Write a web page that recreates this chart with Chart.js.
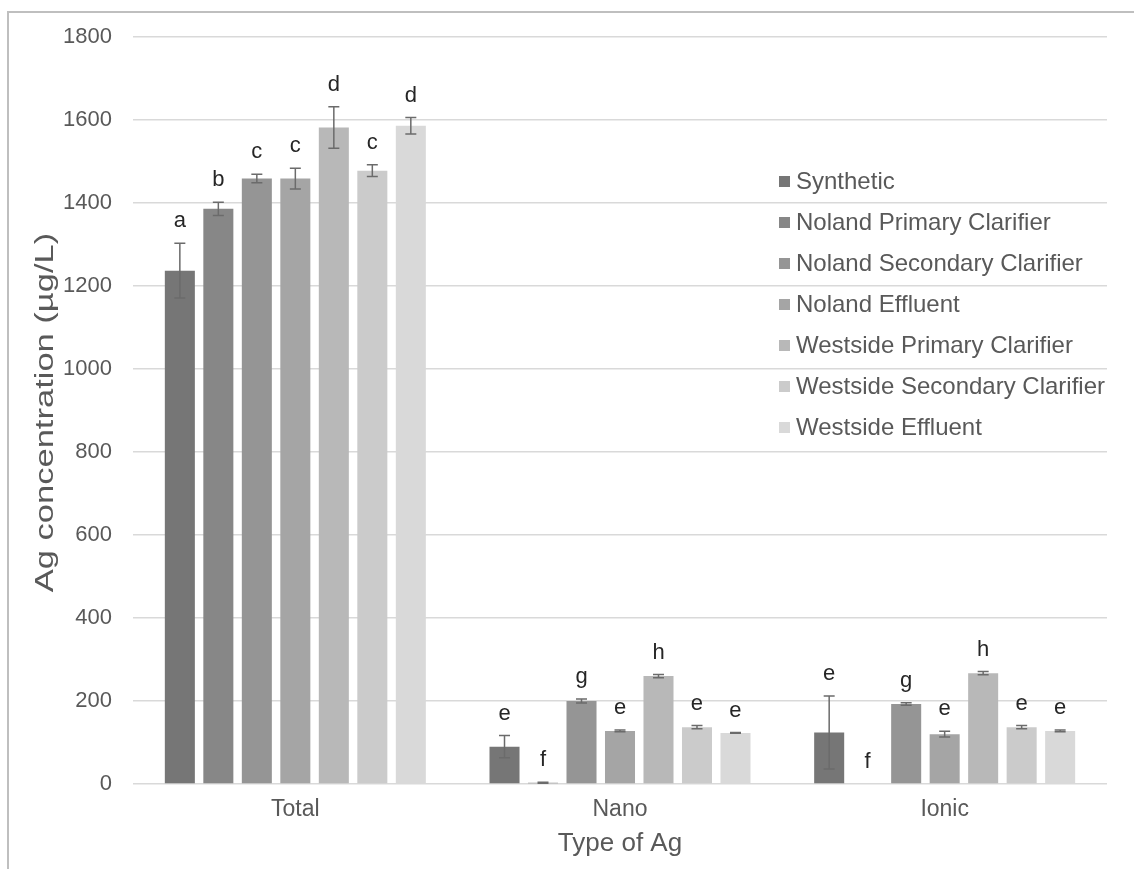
<!DOCTYPE html>
<html>
<head>
<meta charset="utf-8">
<script src="https://cdn.jsdelivr.net/npm/chart.js@4.4.1/dist/chart.umd.min.js"></script>
<style>
  html, body { margin: 0; padding: 0; background: #fff; }
  #wrap { position: relative; width: 1134px; height: 869px; overflow: hidden; }
  #frameTop { position: absolute; left: 8px; top: 11px; width: 1126px; height: 2px; background: #bfbfbf; }
  #frameLeft { position: absolute; left: 7px; top: 11px; width: 2px; height: 858px; background: #bfbfbf; }
  canvas { position: absolute; left: 0; top: 0; }
</style>
</head>
<body>
<div id="wrap">
  <canvas id="ag-chart" width="1134" height="869"></canvas>
  <div id="frameTop"></div>
  <div id="frameLeft"></div>
</div>
<script>
// Categories on the x axis
const categories = ['Total', 'Nano', 'Ionic'];

// Series names (sample sources)
const seriesNames = [
    'Synthetic',
    'Noland Primary Clarifier',
    'Noland Secondary Clarifier',
    'Noland Effluent',
    'Westside Primary Clarifier',
    'Westside Secondary Clarifier',
    'Westside Effluent'
];

// Mean Ag concentration (µg/L) per series: [Total, Nano, Ionic]
const synthetic = [1237, 90, 124];
const nolandPrimary = [1386, 3, 0];
const nolandSecondary = [1459, 200, 193];
const nolandEffluent = [1459, 128, 120];
const westsidePrimary = [1582, 260, 267];
const westsideSecondary = [1478, 137, 137];
const westsideEffluent = [1586, 123, 128];

// Error (± value) per series
const syntheticErr = [66, 27, 88];
const nolandPrimaryErr = [16, 1, 0];
const nolandSecondaryErr = [10, 5, 3];
const nolandEffluentErr = [25, 2, 7];
const westsidePrimaryErr = [50, 4, 4];
const westsideSecondaryErr = [14, 4, 4];
const westsideEffluentErr = [20, 1, 2];

// Significance letters per series
const syntheticLetters = ['a', 'e', 'e'];
const nolandPrimaryLetters = ['b', 'f', 'f'];
const nolandSecondaryLetters = ['c', 'g', 'g'];
const nolandEffluentLetters = ['c', 'e', 'e'];
const westsidePrimaryLetters = ['d', 'h', 'h'];
const westsideSecondaryLetters = ['c', 'e', 'e'];
const westsideEffluentLetters = ['d', 'e', 'e'];

// Y axis ticks
const yTicks = [0, 200, 400, 600, 800, 1000, 1200, 1400, 1600, 1800];

const seriesValues = [synthetic, nolandPrimary, nolandSecondary, nolandEffluent,
    westsidePrimary, westsideSecondary, westsideEffluent];
const seriesErrors = [syntheticErr, nolandPrimaryErr, nolandSecondaryErr, nolandEffluentErr,
    westsidePrimaryErr, westsideSecondaryErr, westsideEffluentErr];
const seriesLetters = [syntheticLetters, nolandPrimaryLetters, nolandSecondaryLetters, nolandEffluentLetters,
    westsidePrimaryLetters, westsideSecondaryLetters, westsideEffluentLetters];
const colors = ['#767676', '#878787', '#959595', '#a5a5a5', '#b8b8b8', '#cbcbcb', '#d9d9d9'];

const textGray = '#595959';
const fontFamily = '"Liberation Sans", Arial, sans-serif';
const yTitle = 'Ag concentration (µg/L)';

// Error bars + letters drawn on top of the bars
const errorBarPlugin = {
    id: 'errorBars',
    afterDatasetsDraw(chart) {
        const ctx = chart.ctx;
        const y = chart.scales.y;
        ctx.save();
        chart.data.datasets.forEach((ds, i) => {
            const meta = chart.getDatasetMeta(i);
            meta.data.forEach((bar, j) => {
                const v = ds.data[j];
                const e = seriesErrors[i][j];
                const x = bar.x;
                const yTop = y.getPixelForValue(v + e);
                const yBot = y.getPixelForValue(Math.max(v - e, 0));
                if (v > 0 || e > 0) {
                    ctx.strokeStyle = '#6b6b6b';
                    ctx.lineWidth = 1.5;
                    ctx.beginPath();
                    ctx.moveTo(x, yTop); ctx.lineTo(x, yBot);
                    ctx.moveTo(x - 5.5, yTop); ctx.lineTo(x + 5.5, yTop);
                    ctx.moveTo(x - 5.5, yBot); ctx.lineTo(x + 5.5, yBot);
                    ctx.stroke();
                }
                ctx.fillStyle = '#262626';
                ctx.font = '22px ' + fontFamily;
                ctx.textAlign = 'center';
                ctx.textBaseline = 'middle';
                ctx.fillText(seriesLetters[i][j], x, yTop - 22);
            });
        });
        ctx.restore();
    }
};

// Legend inside the plot area + the long y axis title
const insideLegendPlugin = {
    id: 'insideLegend',
    afterDraw(chart) {
        const ctx = chart.ctx;
        ctx.save();
        ctx.font = '24px ' + fontFamily;
        ctx.textBaseline = 'middle';
        ctx.textAlign = 'left';
        chart.data.datasets.forEach((ds, i) => {
            const cy = 181 + i * 41;
            ctx.fillStyle = ds.backgroundColor;
            ctx.fillRect(779, cy - 5, 11, 11);
            ctx.fillStyle = textGray;
            ctx.fillText(ds.label, 796, cy + 1);
        });
        ctx.restore();

        // y title, stretched along its length like the original
        const area = chart.chartArea;
        ctx.save();
        ctx.translate(46, (area.top + area.bottom) / 2 + 2);
        ctx.rotate(-Math.PI / 2);
        ctx.scale(1.38, 1);
        ctx.font = '25px ' + fontFamily;
        ctx.fillStyle = textGray;
        ctx.textAlign = 'center';
        ctx.textBaseline = 'middle';
        ctx.fillText(yTitle, 0, 0);
        ctx.restore();
    }
};

const ctx1 = document.getElementById('ag-chart').getContext('2d');
const agChart = new Chart(ctx1, {
    type: 'bar',
    data: {
        labels: categories,
        datasets: seriesNames.map((name, i) => ({
            label: name,
            data: seriesValues[i],
            backgroundColor: colors[i],
            categoryPercentage: 0.83,
            barPercentage: 0.78
        }))
    },
    options: {
        responsive: false,
        animation: false,
        devicePixelRatio: 1,
        layout: { padding: { top: 37, right: 27, left: 0, bottom: 0 } },
        plugins: {
            legend: { display: false },
            tooltip: { enabled: false }
        },
        scales: {
            x: {
                grid: { display: false, drawTicks: false },
                border: { display: false },
                ticks: { color: textGray, font: { size: 23, family: fontFamily }, padding: 12 },
                title: {
                    display: true,
                    text: 'Type of Ag',
                    color: textGray,
                    font: { size: 26, family: fontFamily },
                    padding: { top: 0, bottom: 10 }
                },
                afterFit(scale) { scale.height = 85; }
            },
            y: {
                min: 0,
                max: 1800,
                afterBuildTicks(scale) { scale.ticks = yTicks.map(v => ({ value: v })); },
                grid: { color: '#d9d9d9', lineWidth: 1.5, drawTicks: false },
                border: { display: false },
                ticks: {
                    color: textGray,
                    font: { size: 22, family: fontFamily },
                    padding: 21,
                    callback: v => String(v)
                },
                afterFit(scale) { scale.width = 133; }
            }
        }
    },
    plugins: [errorBarPlugin, insideLegendPlugin]
});
</script>
</body>
</html>
